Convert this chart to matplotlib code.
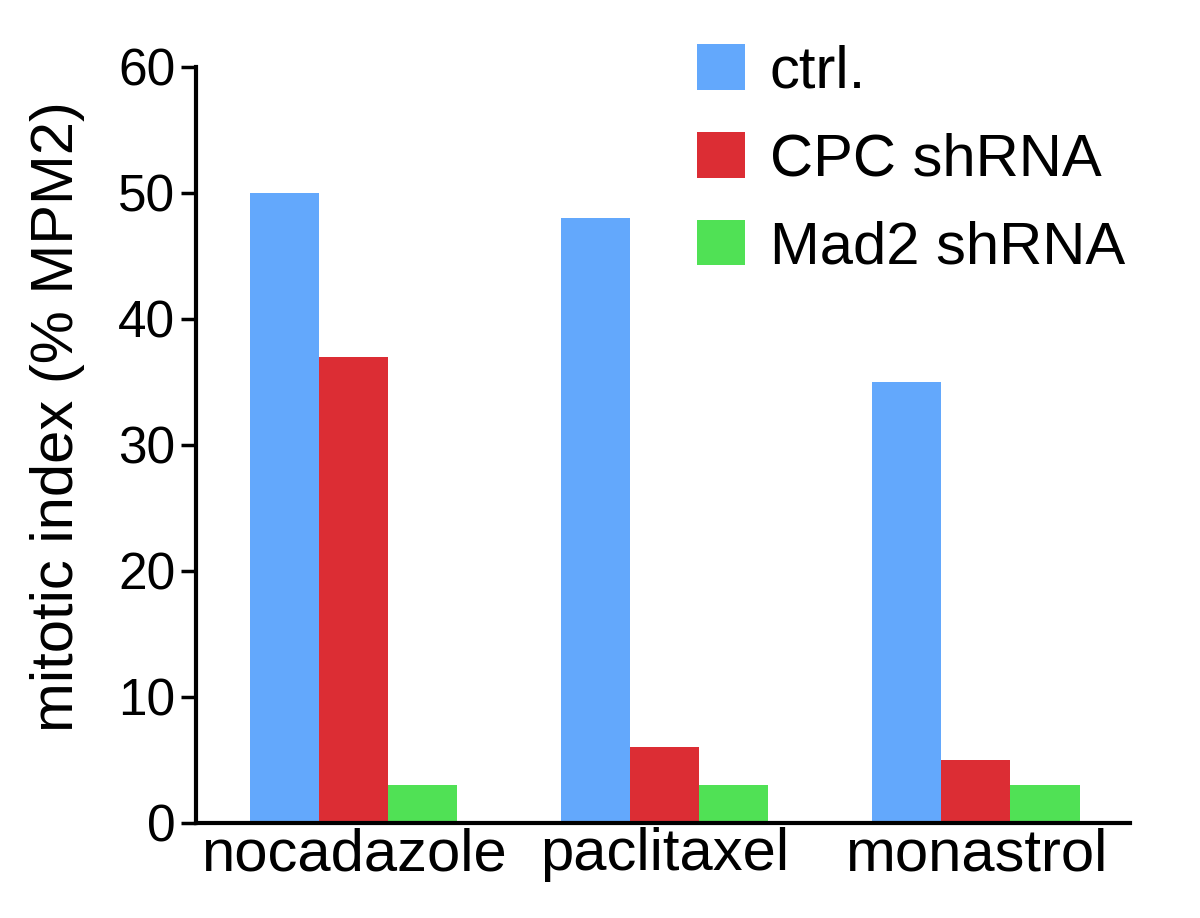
"""Mitotic index bar chart (ctrl / CPC shRNA / Mad2 shRNA) under three drugs."""
import matplotlib
matplotlib.use("Agg")
import matplotlib.pyplot as plt
import numpy as np

plt.rcParams["font.family"] = ["Liberation Sans", "DejaVu Sans"]

drugs = ["nocadazole", "paclitaxel", "monastrol"]
series = ["ctrl.", "CPC shRNA", "Mad2 shRNA"]
ctrl = [50, 48, 35]
cpc = [37, 6, 5]
mad2 = [3, 3, 3]
yticks = [0, 10, 20, 30, 40, 50, 60]

COLORS = ["#63a8fc", "#dc2d34", "#50e155"]

fig = plt.figure(figsize=(12, 9.18), dpi=100)
ax = fig.add_axes([196 / 1200, 1 - 823 / 918, 934 / 1200, 756 / 918])

x = np.arange(len(drugs))
w = 0.222
for i, (vals, lab) in enumerate(zip([ctrl, cpc, mad2], series)):
    ax.bar(x + (i - 1) * w, vals, w, color=COLORS[i], label=lab, lw=0)

ax.set_xlim(-0.506, 2.495)
ax.set_ylim(0, 60)
ax.set_yticks(yticks)
ax.set_xticks(x)
ax.set_xticklabels(drugs, fontsize=43)
ax.tick_params(axis="y", labelsize=37, length=11, width=2.5, pad=4)
ax.tick_params(axis="x", length=0, pad=3)
for s in ["top", "right"]:
    ax.spines[s].set_visible(False)
for s in ["left", "bottom"]:
    ax.spines[s].set_linewidth(3)

ax.set_ylabel("mitotic index (% MPM2)", fontsize=43)
ax.yaxis.set_label_coords(-0.119, 0.537)

ax.legend(loc="upper left", bbox_to_anchor=(697 / 1200, 1 - 44 / 918),
          bbox_transform=fig.transFigure, frameon=False, fontsize=43,
          handlelength=0.8, handleheight=0.8, handletextpad=0.42,
          labelspacing=0.54, borderpad=0, borderaxespad=0)

fig.savefig("out.png", dpi=100)
